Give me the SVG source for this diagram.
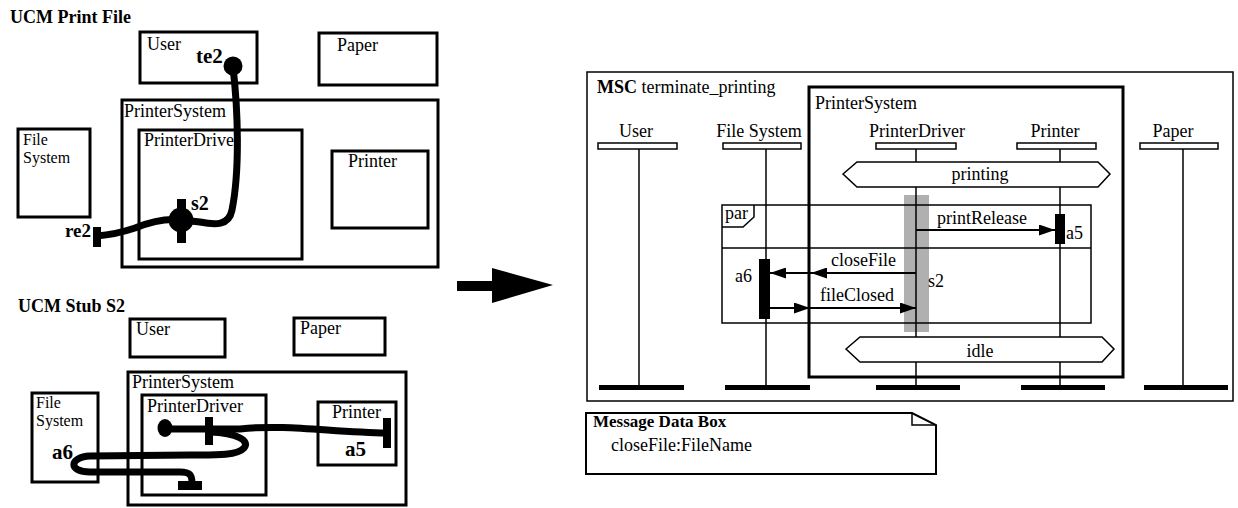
<svg xmlns="http://www.w3.org/2000/svg" width="1238" height="508" viewBox="0 0 1238 508" font-family="'Liberation Serif', 'Times New Roman', serif">
  <style>
    text { font-family: "Liberation Serif", "Times New Roman", serif; font-size: 18px; fill: #000; }
    .b { font-weight: bold; }
    .lbl { font-weight: bold; font-size: 21px; }
    .fs { font-size: 16px; }
    .comp { fill: #fff; stroke: #000; stroke-width: 3; }
    .path { fill: none; stroke: #000; stroke-width: 7; }
    .frame { fill: #fff; stroke: #000; stroke-width: 1.5; }
    .life { stroke: #000; stroke-width: 1.5; }
    .head { fill: #fff; stroke: #000; stroke-width: 1.5; }
    .endbar { fill: #000; }
    .cond { fill: #fff; stroke: #000; stroke-width: 1.5; }
    .msg { stroke: #000; stroke-width: 2; marker-end: url(#ah); }
    .mid { text-anchor: middle; }
  </style>
  <defs>
    <marker id="ah" markerUnits="userSpaceOnUse" markerWidth="16" markerHeight="11" refX="16" refY="5.5" orient="auto">
      <path d="M0,0 L16,5.5 L0,11 Z" fill="#000"/>
    </marker>
  </defs>

  <rect width="1238" height="508" fill="#fff"/>

  <!-- ===== UCM Print File ===== -->
  <g id="ucm-print-file">
    <text class="b" x="10" y="23">UCM Print File</text>
    <g id="pf-user"><rect class="comp" x="140" y="32" width="117" height="51"/><text x="147" y="50">User</text></g>
    <g id="pf-paper"><rect class="comp" x="319" y="33" width="118" height="52"/><text x="337" y="51">Paper</text></g>
    <g id="pf-printersystem"><rect class="comp" x="122" y="100" width="316" height="167"/><text x="124" y="117">PrinterSystem</text></g>
    <g id="pf-printerdriver"><rect class="comp" x="139" y="130" width="163" height="129"/><text x="144" y="146">PrinterDriver</text></g>
    <g id="pf-printer"><rect class="comp" x="332" y="151" width="96" height="77"/><text x="348" y="167">Printer</text></g>
    <g id="pf-filesystem"><rect class="comp" x="18" y="129" width="72" height="88"/><text class="fs" x="23" y="145">File</text><text class="fs" x="23" y="163">System</text></g>
  </g>

  <!-- ===== UCM Stub S2 ===== -->
  <g id="ucm-stub-s2">
    <text class="b" x="18" y="312">UCM Stub S2</text>
    <g id="st-user"><rect class="comp" x="130" y="319" width="95" height="38"/><text x="136" y="335">User</text></g>
    <g id="st-paper"><rect class="comp" x="294" y="318" width="91" height="37"/><text x="300" y="334">Paper</text></g>
    <g id="st-printersystem"><rect class="comp" x="128" y="372" width="278" height="133"/><text x="132" y="388">PrinterSystem</text></g>
    <g id="st-printerdriver"><rect class="comp" x="142" y="395" width="124" height="100"/><text x="147" y="412">PrinterDriver</text></g>
    <g id="st-printer"><rect class="comp" x="318" y="402" width="78" height="63"/><text x="332" y="418">Printer</text></g>
    <g id="st-filesystem"><rect class="comp" x="32" y="393" width="66" height="89"/><text class="fs" x="36" y="408">File</text><text class="fs" x="36" y="426">System</text></g>
  </g>

  <!-- ===== MSC terminate_printing ===== -->
  <g id="msc-frame">
    <rect class="frame" x="587" y="72" width="646" height="329"/>
    <text x="597" y="93"><tspan class="b">MSC</tspan> terminate_printing</text>
  </g>
  <g id="msc-printersystem">
    <rect x="809" y="87" width="314" height="290" fill="none" stroke="#000" stroke-width="3"/>
    <text x="815" y="109">PrinterSystem</text>
  </g>
  <rect id="s2-region" x="904" y="195" width="25" height="137" fill="#b0b0b0"/>

  <g id="inst-user">
    <text class="mid" x="636" y="137">User</text>
    <line class="life" x1="639" y1="149" x2="639" y2="385"/>
    <rect class="head" x="598" y="143" width="79" height="6"/>
    <rect class="endbar" x="599" y="385" width="85" height="5"/>
  </g>
  <g id="inst-filesystem">
    <text class="mid" x="759" y="137">File System</text>
    <line class="life" x1="766" y1="149" x2="766" y2="385"/>
    <rect class="head" x="723" y="143" width="78" height="6"/>
    <rect class="endbar" x="725" y="385" width="85" height="5"/>
  </g>
  <g id="inst-printerdriver">
    <text class="mid" x="917" y="137">PrinterDriver</text>
    <line class="life" x1="916" y1="149" x2="916" y2="385"/>
    <rect class="head" x="876" y="143" width="80" height="6"/>
    <rect class="endbar" x="876" y="385" width="84" height="5"/>
  </g>
  <g id="inst-printer">
    <text class="mid" x="1055" y="137">Printer</text>
    <line class="life" x1="1060" y1="149" x2="1060" y2="385"/>
    <rect class="head" x="1017" y="143" width="79" height="6"/>
    <rect class="endbar" x="1021" y="385" width="84" height="5"/>
  </g>
  <g id="inst-paper">
    <text class="mid" x="1173" y="137">Paper</text>
    <line class="life" x1="1183" y1="149" x2="1183" y2="385"/>
    <rect class="head" x="1140" y="143" width="78" height="6"/>
    <rect class="endbar" x="1144" y="385" width="84" height="5"/>
  </g>

  <g id="cond-printing">
    <polygon class="cond" points="843,174 857,162 1098,162 1110,174 1098,187 857,187"/>
    <text class="mid" x="980" y="180">printing</text>
  </g>
  <g id="cond-idle">
    <polygon class="cond" points="846,349 860,337 1102,337 1114,349 1102,362 860,362"/>
    <text class="mid" x="980" y="357">idle</text>
  </g>

  <g id="par-frame">
    <rect x="722" y="205" width="369" height="118" fill="none" stroke="#000" stroke-width="1.5"/>
    <line x1="722" y1="248" x2="1091" y2="248" stroke="#000" stroke-width="1.5"/>
    <polyline points="722,227 743,227 754,217 754,205" fill="none" stroke="#000" stroke-width="1.5"/>
    <text x="725" y="219">par</text>
  </g>

  <g id="act-a5"><rect x="1055" y="214" width="10" height="30" fill="#000"/><text x="1066" y="239">a5</text></g>
  <g id="act-a6"><rect x="759" y="259" width="11" height="60" fill="#000"/><text x="735" y="282">a6</text></g>
  <text x="928" y="287">s2</text>

  <g id="messages">
    <line class="msg" x1="916" y1="230" x2="1055" y2="230"/>
    <text x="937" y="224">printRelease</text>
    <line class="msg" x1="916" y1="273" x2="811" y2="273"/>
    <line class="msg" x1="811" y1="273" x2="770" y2="273"/>
    <text x="831" y="266">closeFile</text>
    <line class="msg" x1="770" y1="308" x2="810" y2="308"/>
    <line class="msg" x1="810" y1="308" x2="916" y2="308"/>
    <text x="820" y="301">fileClosed</text>
  </g>

  <g id="message-data-box">
    <path d="M586,413 L912,413 L936,425 L936,474 L586,474 Z" fill="#fff" stroke="#000" stroke-width="2"/>
    <path d="M912,413 L912,425 L936,425" fill="none" stroke="#000" stroke-width="1.5"/>
    <text class="b" x="593" y="427" style="font-size:17px">Message Data Box</text>
    <text x="611" y="451">closeFile:FileName</text>
  </g>

  <!-- ===== connectors ===== -->
  <g id="connectors">
    <!-- print file path: te2 start, stub s2, re2 end -->
    <path class="path" d="M233,67 C238,110 240,170 232,210 C229,226 215,225 200,222 L181,220"/>
    <path class="path" d="M181,220 C165,218 150,222 135,228 C120,233 110,235 97,236"/>
    <circle cx="233" cy="66" r="9.5" fill="#000"/>
    <rect x="177" y="199" width="9" height="44" fill="#000"/>
    <circle cx="181" cy="220" r="12.5" fill="#000"/>
    <rect x="93" y="227" width="8" height="20" fill="#000"/>
    <text class="lbl" x="196" y="63">te2</text>
    <text class="lbl" x="191" y="210" style="font-size:20px">s2</text>
    <text class="lbl" x="65" y="237" style="font-size:19px">re2</text>

    <!-- stub plug-in paths -->
    <path class="path" d="M165,429 L240,429 C285,424 330,432 387,433"/>
    <path class="path" d="M210,432 C238,433 250,441 244,448 C237,456 212,455 190,455 L90,456 C69,457 68,472 90,472 L180,472 C190,472 192,475 192,483"/>
    <ellipse cx="165" cy="428" rx="7.5" ry="9" fill="#000"/>
    <rect x="205" y="417" width="8" height="28" fill="#000"/>
    <rect x="383" y="418" width="8" height="30" fill="#000"/>
    <rect x="178" y="481" width="24" height="9" fill="#000"/>
    <text class="lbl" x="345" y="456">a5</text>
    <text class="lbl" x="52" y="459">a6</text>

    <!-- transformation arrow -->
    <polygon points="457,281 492,281 492,268 553,285 492,303 492,291 457,291" fill="#000"/>
  </g>
</svg>
